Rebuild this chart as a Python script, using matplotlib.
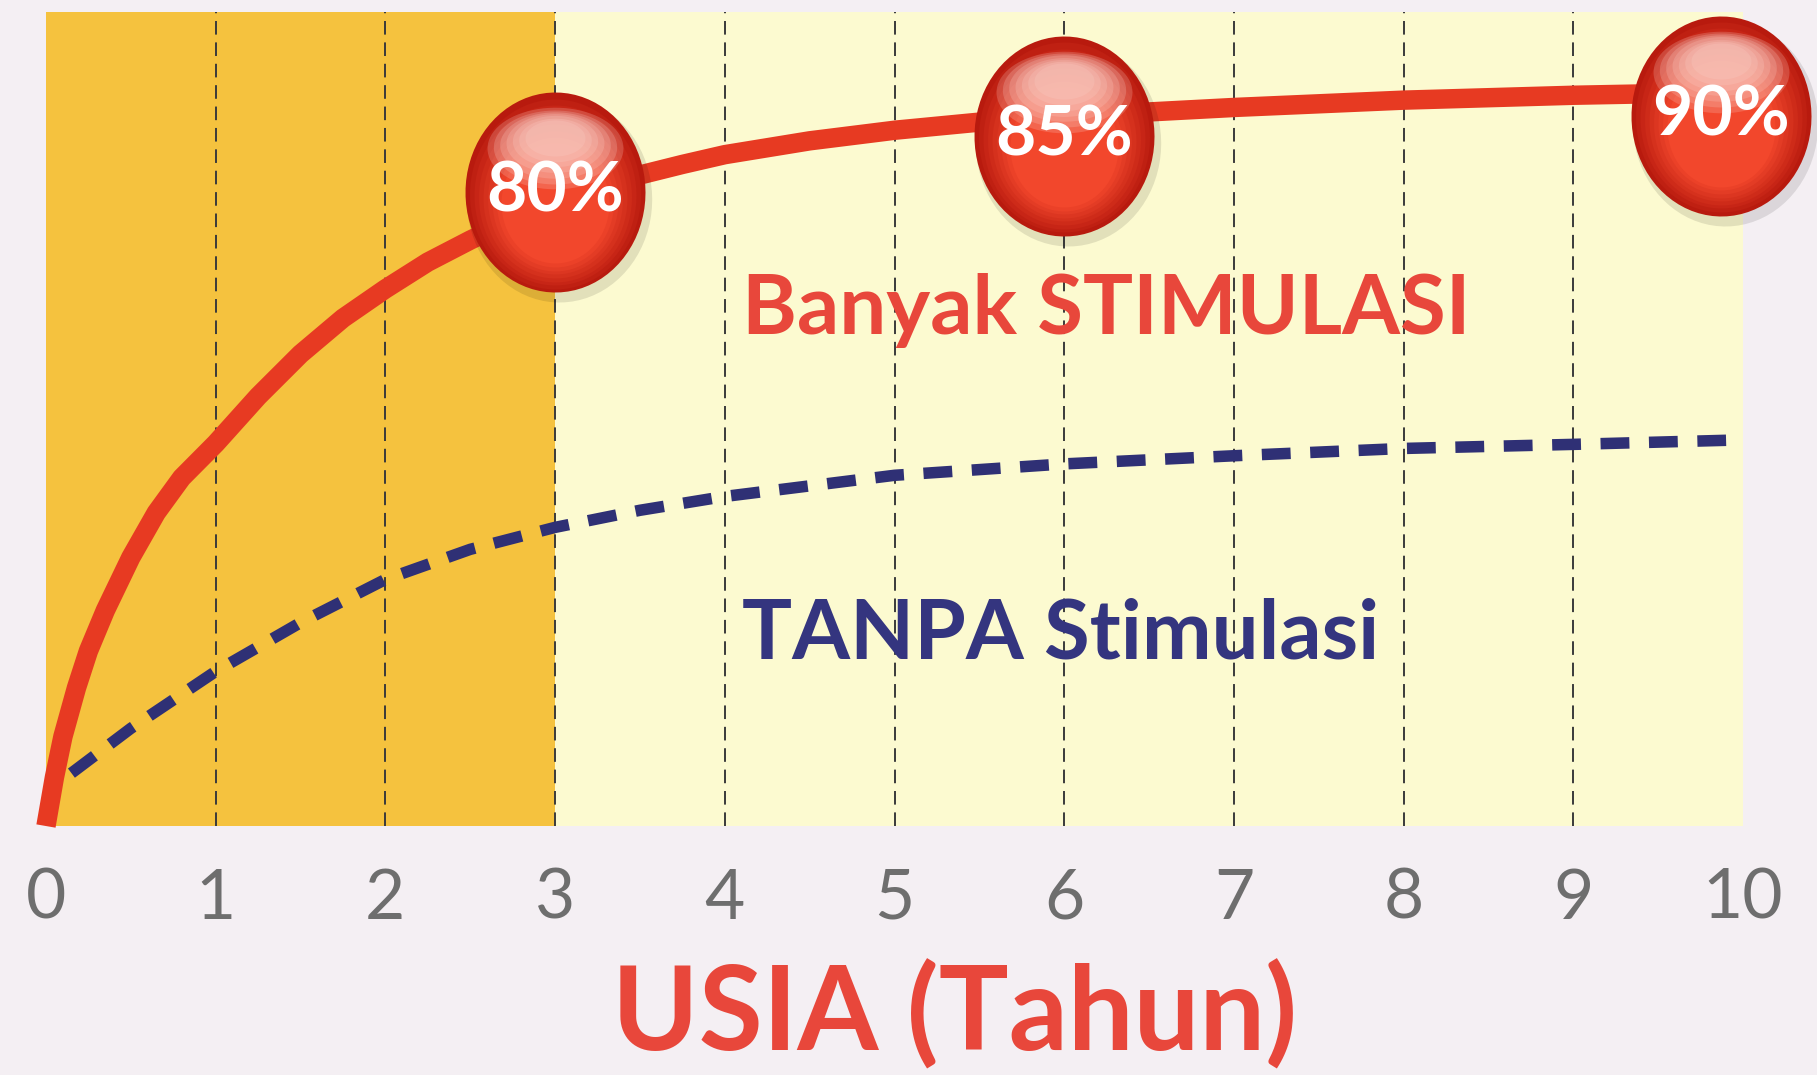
import numpy as np
import matplotlib
matplotlib.use("Agg")
import matplotlib.pyplot as plt
from matplotlib.transforms import offset_copy
from matplotlib.colors import to_rgb

# data (y in arbitrary 0-100 units of the plot height)
usia = [0, 1, 2, 3, 4, 5, 6, 7, 8, 9, 10]
red_x = [0, 0.05, 0.1, 0.18, 0.25, 0.35, 0.5, 0.65, 0.8, 1, 1.25, 1.5, 1.75, 2, 2.25, 2.5,
         2.75, 3, 3.25, 3.5, 3.75, 4, 4.5, 5, 5.5, 6, 7, 8, 9, 10]
red_y = [0, 6, 11, 17, 21.5, 26.5, 33, 38.5, 42.8, 47, 52.8, 58, 62.4, 66, 69.3, 72,
         74.5, 76.5, 78.4, 80, 81.3, 82.5, 84.2, 85.5, 86.5, 87.2, 88.3, 89.2, 89.8, 90.2]
blue_x = [0.15, 0.5, 1, 1.5, 2, 2.5, 3, 3.5, 4, 5, 6, 7, 8, 9, 9.9]
blue_y = [6.5, 12, 19, 25, 30.3, 34, 36.7, 38.8, 40.5, 43.1, 44.5, 45.5, 46.4, 46.9, 47.4]
bubble_x = [3, 6, 10]
bubble_lbl = ["80%", "85%", "90%"]

RED = "#e73a22"
NAVY = "#2f3075"
BG = "#f4eff3"

plt.rcParams["font.family"] = ["Lato", "DejaVu Sans"]

fig = plt.figure(figsize=(18.17, 10.75), dpi=100, facecolor=BG)
ax = fig.add_axes([0.0253, 0.2316, 0.934, 0.757])
ax.set_xlim(0, 10)
ax.set_ylim(0, 100)
ax.set_facecolor(BG)

# background bands
ax.axvspan(0, 3, color="#f5c23e", zorder=0, lw=0)
ax.axvspan(3, 10, color="#fcfad0", zorder=0, lw=0)

# dashed grid lines
ax.vlines(usia[1:-1], 0, 100, colors="#3a3a3a", linestyles=(0, (7, 4)), lw=1.4, zorder=1)

# curves
ax.plot(blue_x, blue_y, color=NAVY, lw=8.3, dashes=(2.5, 1.7), solid_capstyle="butt",
        dash_capstyle="butt", zorder=3, clip_on=False)
ax.plot(red_x, red_y, color=RED, lw=14, solid_capstyle="butt", solid_joinstyle="round",
        zorder=4, clip_on=False)

# labels inside plot
ax.text(4.1, 63.3, "Banyak STIMULASI", color="#e8473b", fontsize=60, fontweight="bold",
        ha="left", va="center", zorder=2)
ax.text(4.1, 23.5, "TANPA Stimulasi", color="#34357f", fontsize=60, fontweight="bold",
        ha="left", va="center", zorder=2)

# bubbles
t = np.linspace(0, 2 * np.pi, 80)
ell = np.c_[0.9 * np.cos(t), np.sin(t)]
gloss = np.c_[np.cos(t), 0.6 * np.sin(t)]
offsets = [(0, 8), (0, -14), (-16, -17)]
S = 144
c_out = np.array(to_rgb("#b81a0e"))
c_in = np.array(to_rgb("#f2472c"))
for bx, lbl, (dx, dy) in zip(bubble_x, bubble_lbl, offsets):
    by = np.interp(bx, red_x, red_y)
    tr = offset_copy(ax.transData, fig=fig, x=dx + 3, y=dy - 5, units="points")
    ax.scatter([bx], [by], s=(S * 1.03) ** 2, marker=ell, color="#000000", alpha=0.1,
               lw=0, transform=tr, zorder=5, clip_on=False)
    for i, f in enumerate(np.linspace(1.0, 0.6, 9)):
        c = c_out + (c_in - c_out) * (i / 8)
        tr = offset_copy(ax.transData, fig=fig, x=dx, y=dy - (1 - f) * 20, units="points")
        ax.scatter([bx], [by], s=(S * f) ** 2, marker=ell, color=c, lw=0,
                   transform=tr, zorder=6, clip_on=False)
    for f in np.linspace(0.68, 0.3, 7):
        tr = offset_copy(ax.transData, fig=fig, x=dx, y=dy + 0.22 * S + (0.68 - f) * 20,
                         units="points")
        ax.scatter([bx], [by], s=(S * f) ** 2, marker=gloss, color="#fbd3cb", alpha=0.22,
                   lw=0, transform=tr, zorder=7, clip_on=False)
    tr = offset_copy(ax.transData, fig=fig, x=dx, y=dy, units="points")
    ax.text(bx, by, lbl, color="white", fontsize=50, fontweight="bold", ha="center",
            va="center", transform=tr, zorder=8)

# axes
for s in ax.spines.values():
    s.set_visible(False)
ax.set_yticks([])
ax.set_xticks(usia)
ax.set_xticklabels([str(u) for u in usia], fontsize=50, color="#6e6e6e", fontweight="normal")
ax.tick_params(axis="x", length=0, pad=30)

fig.text(0.5256, 0.056, "USIA (Tahun)", color="#e8473b", fontsize=84, fontweight="bold",
         ha="center", va="center")

fig.savefig("out.png", dpi=100, facecolor=BG)
